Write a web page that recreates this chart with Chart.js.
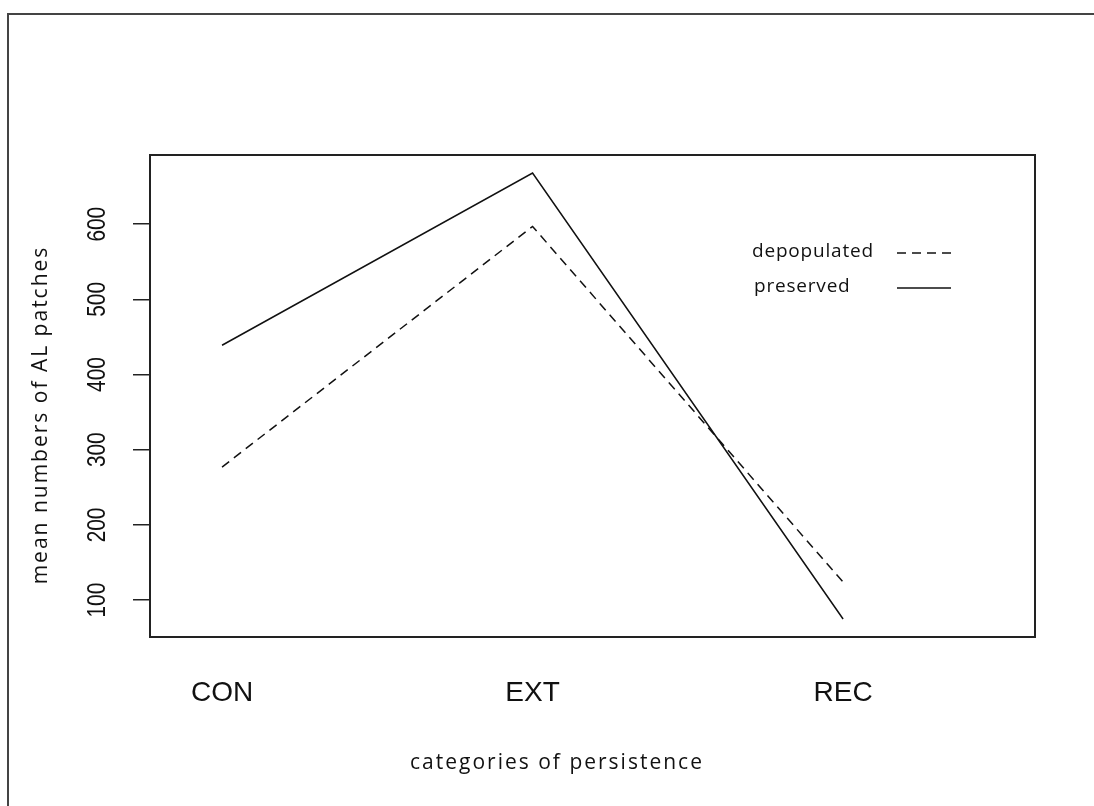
<!DOCTYPE html>
<html>
<head>
<meta charset="utf-8">
<script src="https://cdn.jsdelivr.net/npm/chart.js@4.4.1/dist/chart.umd.min.js"></script>
<style>
  body { margin: 0; background: #fff; }
  canvas { display: block; }
</style>
</head>
<body>
<canvas id="grafica" width="1094" height="806"></canvas>
<script>
// categorías y valores
const categorias = ["CON", "EXT", "REC"];
const posiciones = [1, 2, 3];
const depopulated = [277, 597, 124];
const preserved = [439, 668, 75];
const ticksY = [100, 200, 300, 400, 500, 600];

const tituloX = "categories of persistence";
const tituloY = "mean numbers of AL patches";

// Plugin para marco, leyenda, títulos y etiquetas del eje y
const dibujoExtra = {
  id: "dibujoExtra",
  afterDraw(chart) {
    const ctx = chart.ctx;
    const area = chart.chartArea;
    const escalaY = chart.scales.y;
    ctx.save();

    // marco exterior
    ctx.strokeStyle = "#444";
    ctx.lineWidth = 2;
    ctx.strokeRect(8, 14, 1200, 1000);

    // caja del gráfico
    ctx.strokeStyle = "#222";
    ctx.lineWidth = 2;
    ctx.strokeRect(area.left, area.top, area.right - area.left, area.bottom - area.top);

    // etiquetas del eje y (giradas y estrechas)
    ctx.fillStyle = "#111";
    ctx.font = "26px 'Liberation Sans'";
    ctx.textAlign = "center";
    ctx.textBaseline = "middle";
    ticksY.forEach((v) => {
      const y = escalaY.getPixelForValue(v);
      ctx.save();
      ctx.translate(98, y);
      ctx.rotate(-Math.PI / 2);
      ctx.scale(0.8, 1);
      ctx.fillText(String(v), 0, 0);
      ctx.restore();
    });

    // títulos
    ctx.font = "21px 'Open Sans'";
    ctx.fillStyle = "#111";
    ctx.letterSpacing = "2px";
    ctx.fillText(tituloX, 557, 763);
    ctx.save();
    ctx.translate(41, 415);
    ctx.rotate(-Math.PI / 2);
    ctx.fillText(tituloY, 0, 0);
    ctx.restore();

    // leyenda
    ctx.font = "19px 'Open Sans'";
    ctx.letterSpacing = "0.8px";
    ctx.textAlign = "left";
    chart.data.datasets.forEach((ds, i) => {
      const y = 252 + i * 35;
      ctx.fillStyle = "#111";
      ctx.fillText(ds.label, 752 + i * 2, y);
      ctx.strokeStyle = ds.borderColor;
      ctx.lineWidth = 1.5;
      ctx.setLineDash(ds.borderDash || []);
      ctx.beginPath();
      ctx.moveTo(897, y + 1);
      ctx.lineTo(951, y + 1);
      ctx.stroke();
    });
    ctx.setLineDash([]);
    ctx.letterSpacing = "0px";
    ctx.restore();
  },
};

new Chart(document.getElementById("grafica"), {
  type: "line",
  data: {
    datasets: [
      {
        label: "depopulated",
        data: posiciones.map((x, i) => ({ x, y: depopulated[i] })),
        borderColor: "#111",
        borderWidth: 1.5,
        borderDash: [9, 6],
        pointRadius: 0,
        tension: 0,
      },
      {
        label: "preserved",
        data: posiciones.map((x, i) => ({ x, y: preserved[i] })),
        borderColor: "#111",
        borderWidth: 1.5,
        pointRadius: 0,
        tension: 0,
      },
    ],
  },
  options: {
    responsive: false,
    animation: false,
    layout: { padding: { top: 155, right: 59, left: 0, bottom: 0 } },
    plugins: {
      legend: { display: false },
      tooltip: { enabled: false },
    },
    scales: {
      x: {
        type: "linear",
        min: 0.768,
        max: 3.618,
        afterBuildTicks: (escala) => {
          escala.ticks = posiciones.map((v) => ({ value: v }));
        },
        afterFit: (escala) => {
          escala.height = 169;
        },
        grid: { display: false },
        border: { display: false },
        ticks: {
          autoSkip: false,
          maxRotation: 0,
          padding: 31,
          color: "#111",
          font: { family: "'Liberation Sans'", size: 28 },
          callback: (v) => categorias[v - 1] || "",
        },
      },
      y: {
        min: 51,
        max: 692,
        afterBuildTicks: (escala) => {
          escala.ticks = ticksY.map((v) => ({ value: v }));
        },
        afterFit: (escala) => {
          escala.width = 150;
        },
        grid: {
          drawOnChartArea: false,
          drawTicks: true,
          tickLength: 17,
          color: "#222",
          lineWidth: 1.5,
        },
        border: { display: false },
        ticks: { display: false },
      },
    },
  },
  plugins: [dibujoExtra],
});
</script>
</body>
</html>
